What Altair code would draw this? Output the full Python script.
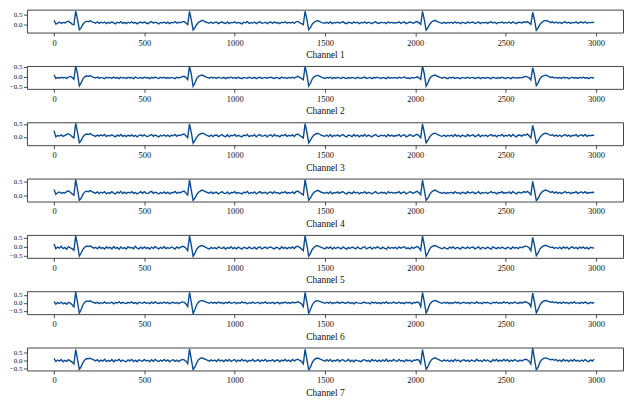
import altair as alt
import pandas as pd

# Tick positions
X_TICKS = [0, 500, 1000, 1500, 2000, 2500, 3000]
STEP = 10  # one value every 10 samples

# Signal values per channel, in hundredths, one value every 10 samples (0..2990)
ch1 = [22, 4, 9, 14, 7, 12, 9, 15, 18, 11,
       4, 0, 68, 28, -24, -15, 3, 13, 18, 15,
       21, 15, 12, 8, 15, 7, 13, 9, 14, 6,
       12, 8, 15, 10, 5, 13, 9, 16, 7, 12,
       6, 13, 9, 15, 8, 12, 5, 11, 14, 8,
       15, 9, 6, 12, 16, 8, 13, 10, 5, 12,
       9, 14, 7, 13, 6, 12, 10, 16, 8, 13,
       11, 15, 17, 9, 1, 66, 25, -25, -14, 2,
       12, 17, 22, 18, 14, 11, 8, 14, 7, 12,
       13, 6, 11, 15, 9, 7, 14, 6, 12, 10,
       15, 8, 12, 9, 5, 13, 10, 16, 7, 11,
       9, 14, 6, 12, 15, 8, 10, 13, 6, 12,
       14, 7, 15, 9, 11, 6, 13, 10, 15, 8,
       12, 9, 14, 7, 15, 17, 11, 6, 1, 67,
       26, -24, -13, 4, 13, 18, 21, 16, 12, 10,
       8, 13, 7, 15, 6, 12, 9, 14, 8, 12,
       15, 9, 6, 13, 11, 7, 15, 9, 13, 6,
       12, 9, 15, 7, 13, 10, 6, 12, 15, 9,
       7, 13, 10, 12, 6, 15, 9, 13, 8, 11,
       10, 15, 7, 12, 14, 6, 10, 15, 11, 8,
       13, 16, 10, 2, 66, 24, -26, -14, 3, 14,
       19, 22, 17, 13, 10, 8, 13, 7, 12, 9,
       13, 7, 15, 9, 12, 6, 13, 10, 7, 15,
       9, 12, 14, 7, 10, 15, 6, 12, 9, 13,
       7, 12, 15, 9, 13, 6, 12, 10, 15, 8,
       12, 9, 14, 7, 15, 10, 6, 13, 12, 9,
       15, 12, 16, 10, 2, 62, 24, -27, -15, 2,
       12, 18, 22, 19, 16, 11, 15, 9, 14, 8,
       13, 7, 12, 15, 9, 13, 7, 12, 10, 15,
       7, 12, 14, 9, 15, 8, 12, 10, 13, 11]

ch2 = [10, -9, -4, -7, -2, -6, -3, -8, -1, 2,
       -3, -12, 55, 15, -45, -30, -10, 0, 5, 2,
       6, 1, -3, -6, -1, -8, -3, -5, -9, -2,
       -6, -3, -8, -1, -7, -4, -9, -2, -6, -4,
       -8, -2, -6, -4, -9, -1, -5, -7, -3, -8,
       -2, -6, -4, -9, -3, -7, -1, -5, -8, -3,
       -6, -2, -8, -4, -7, -3, -5, -9, -2, -6,
       -3, 1, 3, -4, -14, 53, 12, -47, -30, -9,
       2, 6, 9, 4, 0, -4, -7, -2, -6, -3,
       -8, -2, -5, -7, -3, -9, -4, -6, -1, -7,
       -4, -8, -2, -6, -9, -3, -5, -7, -2, -6,
       -7, -3, -9, -4, -2, -8, -5, -3, -7, -4,
       -2, -6, -8, -3, -5, -9, -1, -6, -4, -8,
       -3, -6, -2, -7, -1, 3, -3, -8, -15, 52,
       12, -46, -31, -10, 0, 5, 7, 3, -2, -5,
       -8, -3, -6, -2, -9, -4, -7, -3, -5, -8,
       -2, -6, -9, -4, -7, -3, -5, -8, -2, -6,
       -7, -4, -1, -8, -5, -3, -9, -4, -6, -2,
       -5, -8, -3, -6, -9, -2, -7, -4, -6, -3,
       -8, -2, -6, -4, -1, -7, -5, -9, -3, -6,
       -4, 0, -5, -13, 54, 14, -46, -30, -8, 2,
       6, 9, 4, 0, -4, -7, -2, -6, -9, -3,
       -6, -2, -8, -4, -6, -9, -3, -5, -7, -2,
       -7, -4, -3, -8, -6, -2, -9, -4, -5, -7,
       -3, -6, -9, -2, -5, -8, -4, -7, -2, -6,
       -8, -3, -5, -9, -2, -6, -4, -7, -3, -5,
       -1, 2, 0, -5, -15, 45, 10, -44, -30, -9,
       1, 5, 8, 6, 1, -3, -1, -6, -3, -7,
       -4, -8, -2, -6, -3, -9, -5, -2, -7, -4,
       -8, -3, -6, -2, -7, -4, -9, -3, -5, -6]

ch3 = [24, 0, 5, 3, 8, 2, 6, 9, 12, 7,
       1, -4, 52, 18, -22, -14, 0, 8, 11, 9,
       13, 8, 5, 2, 7, 3, 8, 4, 9, 1,
       6, 3, 8, 4, 0, 7, 3, 9, 2, 6,
       1, 7, 3, 8, 2, 6, 0, 5, 8, 3,
       8, 3, 1, 6, 9, 2, 7, 4, 0, 6,
       3, 8, 2, 7, 1, 6, 4, 9, 2, 7,
       5, 9, 11, 4, -3, 50, 16, -24, -14, -1,
       7, 11, 14, 12, 8, 5, 2, 7, 1, 6,
       7, 1, 5, 9, 3, 1, 8, 0, 6, 4,
       9, 2, 6, 3, 0, 7, 4, 9, 1, 5,
       3, 8, 0, 6, 9, 2, 4, 7, 0, 6,
       8, 1, 9, 3, 5, 0, 7, 4, 9, 2,
       6, 3, 8, 1, 9, 11, 5, 1, -4, 51,
       17, -23, -13, 0, 8, 11, 14, 10, 6, 4,
       2, 7, 1, 9, 0, 6, 3, 8, 2, 6,
       9, 3, 0, 7, 5, 1, 9, 3, 7, 0,
       6, 3, 9, 1, 7, 4, 0, 6, 9, 3,
       1, 7, 4, 6, 0, 9, 3, 7, 2, 5,
       4, 9, 1, 6, 8, 0, 4, 9, 5, 2,
       7, 10, 4, -3, 50, 16, -23, -13, 0, 8,
       12, 14, 10, 7, 4, 2, 7, 1, 6, 3,
       7, 1, 9, 3, 6, 0, 7, 4, 1, 9,
       3, 6, 8, 1, 4, 9, 0, 6, 3, 7,
       1, 6, 9, 3, 7, 0, 6, 4, 9, 2,
       6, 3, 8, 1, 9, 4, 0, 7, 6, 3,
       9, 6, 11, 4, -4, 44, 14, -24, -15, -2,
       6, 11, 14, 12, 9, 5, 8, 3, 7, 2,
       7, 1, 6, 9, 3, 7, 1, 6, 4, 9,
       1, 6, 8, 3, 9, 2, 6, 4, 7, 5]

ch4 = [22, 4, 10, 13, 8, 11, 9, 14, 17, 12,
       6, 1, 58, 22, -17, -10, 4, 13, 16, 14,
       18, 14, 11, 8, 13, 7, 12, 9, 14, 6,
       11, 8, 14, 9, 6, 13, 9, 15, 7, 12,
       7, 12, 9, 14, 8, 11, 6, 10, 14, 8,
       14, 9, 7, 12, 15, 8, 12, 10, 6, 11,
       8, 13, 7, 12, 6, 11, 10, 15, 8, 12,
       10, 14, 16, 9, 2, 57, 20, -18, -10, 3,
       12, 16, 20, 17, 13, 11, 8, 13, 7, 11,
       12, 6, 10, 14, 9, 7, 13, 6, 11, 10,
       14, 8, 11, 9, 6, 12, 10, 15, 7, 11,
       9, 13, 6, 11, 14, 8, 10, 12, 6, 11,
       13, 7, 14, 9, 11, 6, 12, 10, 14, 8,
       11, 9, 13, 7, 14, 16, 11, 7, 2, 58,
       21, -17, -9, 4, 12, 16, 19, 15, 12, 10,
       8, 12, 7, 14, 6, 11, 9, 13, 8, 12,
       14, 9, 6, 12, 10, 7, 14, 9, 12, 6,
       11, 9, 14, 7, 12, 10, 6, 11, 14, 9,
       7, 12, 10, 11, 6, 14, 9, 12, 8, 11,
       10, 14, 7, 11, 13, 6, 10, 14, 11, 8,
       12, 15, 10, 3, 56, 20, -18, -10, 4, 13,
       17, 20, 16, 12, 10, 8, 12, 7, 11, 9,
       12, 7, 14, 9, 11, 6, 12, 10, 7, 14,
       9, 11, 13, 7, 10, 14, 6, 11, 9, 12,
       7, 11, 14, 9, 12, 6, 11, 10, 14, 8,
       11, 9, 13, 7, 14, 10, 6, 12, 11, 9,
       14, 11, 15, 10, 3, 52, 19, -19, -11, 3,
       12, 17, 20, 18, 15, 11, 14, 9, 13, 8,
       12, 7, 11, 14, 9, 12, 7, 11, 10, 14,
       7, 11, 13, 9, 14, 8, 11, 10, 12, 11]

ch5 = [15, -12, -2, -8, 2, -10, -4, -14, 0, -6,
       -10, -20, 62, 10, -52, -35, -15, -3, 4, 1,
       5, -2, -8, -3, -12, 0, -9, -5, -13, -1,
       -8, -3, -12, 1, -9, -4, -14, -2, -10, -5,
       -13, 0, -7, -4, -11, 2, -8, -12, -3, -10,
       -1, -9, -5, -13, -2, -10, 1, -7, -12, -4,
       -9, 0, -11, -5, -10, -2, -7, -13, -1, -8,
       -4, 2, 0, -8, -22, 60, 8, -54, -36, -14,
       -2, 4, 7, 2, -3, -9, -12, -4, -10, -5,
       -12, -1, -7, -10, -3, -13, -5, -9, 0, -11,
       -5, -12, -2, -8, -14, -3, -6, -11, -1, -9,
       -10, -3, -13, -5, -1, -12, -6, -2, -11, -4,
       -1, -8, -12, -3, -6, -14, 0, -9, -4, -12,
       -3, -9, -1, -10, 0, 3, -4, -12, -22, 61,
       8, -53, -36, -14, -3, 4, 6, 1, -4, -8,
       -12, -2, -9, -1, -13, -4, -10, -3, -6, -12,
       -1, -8, -13, -4, -10, -2, -6, -12, -1, -9,
       -11, -4, 0, -12, -6, -2, -13, -4, -8, -1,
       -6, -12, -2, -9, -14, -1, -10, -4, -8, -3,
       -12, -1, -8, -4, 0, -11, -6, -13, -2, -9,
       -4, 1, -6, -20, 60, 9, -53, -35, -12, -1,
       4, 7, 2, -3, -8, -11, -3, -9, -13, -2,
       -8, -1, -12, -4, -7, -13, -2, -6, -10, -1,
       -10, -4, -2, -12, -7, -1, -13, -4, -6, -11,
       -2, -8, -13, -1, -6, -11, -4, -10, -2, -8,
       -12, -3, -6, -13, -1, -8, -4, -11, -2, -6,
       0, 3, 1, -6, -22, 52, 6, -50, -35, -13,
       -2, 4, 8, 5, 0, -5, -2, -9, -4, -10,
       -3, -12, -1, -8, -2, -13, -5, -1, -10, -4,
       -12, -2, -8, -1, -11, -4, -13, -3, -6, -8]

ch6 = [10, -8, 2, -4, 5, -6, 0, -9, 3, -2,
       -12, -25, 68, 5, -66, -42, -12, 4, 12, 9,
       13, 6, 2, -2, 4, -5, 1, -3, 6, -4,
       1, -3, 5, -6, 2, -1, 7, -4, 3, -2,
       -5, 3, -1, 6, -4, 2, -6, 4, 0, -3,
       5, -2, 1, -5, 4, -3, 6, -1, -4, 2,
       -3, 5, -2, 3, -6, 1, 4, -3, 2, -5,
       1, 6, 3, -6, -24, 66, 4, -68, -42, -12,
       5, 12, 15, 10, 6, 1, -3, 4, -2, 3,
       -4, 5, -1, 2, -5, 4, -2, 6, -3, 0,
       4, -5, 2, -3, 6, -1, 3, -6, 1, -2,
       5, -3, 0, 4, -5, 2, -1, 6, -4, 1,
       -2, 4, -5, 1, 3, -6, 2, -1, 5, -3,
       2, -4, 5, -1, 3, 7, 1, -6, -25, 67,
       5, -67, -41, -12, 4, 12, 14, 9, 5, 1,
       -3, 4, -2, 5, -5, 1, -1, 6, -4, 2,
       4, -3, -1, 5, -4, 2, -6, 3, 0, -2,
       -5, 2, 4, -3, 1, -6, 5, -1, 3, -4,
       2, -5, 3, -2, 6, -4, 1, -3, 5, -1,
       -3, 5, -2, 0, -5, 4, -1, 3, -6, 2,
       1, 5, 2, -24, 66, 6, -66, -40, -10, 5,
       12, 15, 10, 5, 0, -3, 4, -2, 3, -5,
       2, -4, 5, -1, 3, -6, 1, 4, -3, 2,
       -5, 3, 0, -4, 6, -2, 1, -5, 4, -1,
       3, -2, -6, 4, -1, 5, -4, 2, -3, 6,
       -1, 4, -5, 2, -3, 5, 0, -4, 3, -2,
       4, 7, 2, -5, -24, 62, 5, -64, -42, -14,
       3, 11, 15, 12, 8, 4, 7, 0, 5, -2,
       3, -4, 5, -1, 2, -5, 4, -2, 6, -3,
       1, -4, 3, -2, 5, -1, -5, 4, -2, 3]

ch7 = [14, -6, 4, -3, 7, -8, 2, -5, 6, -2,
       -10, -22, 72, 8, -58, -40, -14, 4, 14, 12,
       16, 9, 4, -2, 6, -7, 3, -4, 8, -6,
       2, -5, 7, -8, 3, -1, 9, -6, 4, -3,
       -7, 5, -2, 8, -6, 3, -8, 5, 0, -4,
       7, -3, 2, -7, 6, -4, 8, -2, -6, 3,
       -4, 7, -3, 4, -8, 2, 6, -5, 3, -7,
       2, 8, 5, -4, -20, 75, 8, -60, -42, -14,
       6, 14, 18, 12, 8, 2, -4, 5, -3, 4,
       -6, 7, -2, 3, -7, 6, -3, 8, -5, 1,
       6, -7, 3, -4, 8, -2, 4, -8, 2, -3,
       7, -5, 0, 6, -7, 3, -2, 8, -6, 2,
       -3, 6, -7, 2, 4, -8, 3, -2, 7, -4,
       3, -6, 7, -2, 4, 9, 2, -5, -22, 74,
       6, -62, -42, -12, 5, 14, 17, 12, 6, 2,
       -4, 6, -3, 7, -7, 2, -2, 8, -6, 3,
       6, -4, -2, 7, -6, 3, -8, 4, 0, -3,
       -7, 3, 6, -4, 2, -8, 7, -2, 4, -6,
       3, -7, 4, -3, 8, -6, 2, -4, 7, -2,
       -4, 7, -3, 0, -7, 6, -2, 4, -8, 3,
       2, 7, 3, -20, 72, 8, -58, -40, -12, 6,
       14, 18, 12, 6, 0, -4, 5, -3, 4, -6,
       3, -6, 7, -2, 4, -8, 2, 5, -4, 3,
       -7, 4, 0, -6, 8, -3, 2, -7, 6, -2,
       4, -3, -8, 6, -2, 7, -5, 3, -4, 8,
       -2, 6, -7, 3, -4, 7, 0, -5, 4, -3,
       5, 9, 4, -4, -22, 82, 10, -61, -44, -12,
       6, 14, 18, 15, 10, 6, 9, 2, 7, -3,
       4, -6, 7, -2, 3, -7, 5, -3, 8, -4,
       2, -6, 4, -3, 7, -2, -7, 5, -3, 9]

CHANNELS = ["Channel 1", "Channel 2", "Channel 3", "Channel 4",
            "Channel 5", "Channel 6", "Channel 7"]
SERIES = [ch1, ch2, ch3, ch4, ch5, ch6, ch7]
Y_DOMAINS = [[-0.38, 0.75], [-0.60, 0.54], [-0.32, 0.56], [-0.22, 0.62],
             [-0.62, 0.66], [-0.72, 0.74], [-0.65, 0.86]]
Y_TICKS = [[0.0, 0.5], [-0.5, 0.0, 0.5], [0.0, 0.5], [0.0, 0.5],
           [-0.5, 0.0, 0.5], [-0.5, 0.0, 0.5], [-0.5, 0.0, 0.5]]

LINE_COLOR = "#0b4d94"
FONT = "Liberation Serif, Times New Roman, DejaVu Serif, serif"


def panel(name, vals, domain, yticks):
    df = pd.DataFrame({
        "sample": [i * STEP for i in range(len(vals))],
        "value": [v / 100 for v in vals],
    })
    return alt.Chart(df).mark_line(
        color=LINE_COLOR, strokeWidth=1.4, clip=True
    ).encode(
        x=alt.X("sample:Q",
                scale=alt.Scale(domain=[-150, 3150], nice=False, zero=False),
                axis=alt.Axis(values=X_TICKS, format="d", title=name, grid=False,
                              labelOverlap=False)),
        y=alt.Y("value:Q",
                scale=alt.Scale(domain=domain, nice=False, zero=False),
                axis=alt.Axis(values=yticks, format=".1f", title=None, grid=False,
                              labelOverlap=False, labelFontSize=7,
                              labelPadding=1.5)),
    ).properties(width=598, height=23)


charts = [panel(n, s, d, t) for n, s, d, t in zip(CHANNELS, SERIES, Y_DOMAINS, Y_TICKS)]

chart = alt.vconcat(*charts, spacing=33.5, bounds="flush").properties(
    padding={"left": 0, "top": 0, "right": 0, "bottom": 0}
).configure_axis(
    labelFont=FONT, labelFontSize=8.5, labelColor="#111",
    titleFont=FONT, titleFontSize=9.5, titleFontWeight="normal", titleColor="#111",
    tickSize=3.5, tickColor="#222", tickWidth=0.8,
    domain=False, labelPadding=2, titlePadding=3,
).configure_axisY(
    minExtent=17, maxExtent=17
).configure_view(
    stroke="#444", strokeWidth=1
)

chart.save("out.html", embed_options={"renderer": "svg", "actions": False})
